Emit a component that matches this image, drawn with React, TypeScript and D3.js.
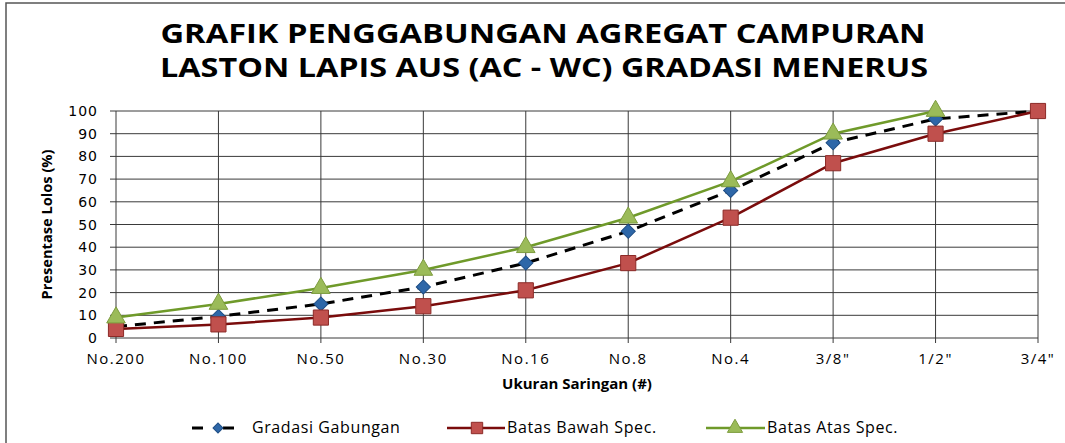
import React, { useRef, useEffect } from 'react';
import * as d3 from 'd3';

const sieves = ['No.200', 'No.100', 'No.50', 'No.30', 'No.16', 'No.8', 'No.4', '3/8"', '1/2"', '3/4"'];
const gradasiGabungan = [5, 9.5, 15, 22.5, 33, 47, 65, 86, 96.5, 100];
const batasBawah = [4, 6, 9, 14, 21, 33, 53, 77, 90, 100];
const batasAtas: (number | null)[] = [9, 15, 22, 30, 40, 53, 69, 90, 100, null];
const yTicks = [0, 10, 20, 30, 40, 50, 60, 70, 80, 90, 100];

const W = 1065, H = 443;
const margin = { left: 116, right: 27, top: 111, bottom: 105 };

const App = () => {
  const svgRef = useRef<SVGSVGElement>(null);

  useEffect(() => {
    const svg = d3.select(svgRef.current);
    svg.selectAll('*').remove();

    const x = d3.scalePoint().domain(sieves).range([margin.left, W - margin.right]);
    const y = d3.scaleLinear().domain([0, 100]).range([H - margin.bottom, margin.top]);

    // outer chart frame (runs past the right / bottom edges like the crop)
    svg.append('rect')
      .attr('x', 6).attr('y', 3).attr('width', W + 20).attr('height', H + 20)
      .attr('fill', '#fff').attr('stroke', '#555').attr('stroke-width', 1.5);

    // title
    const title = svg.append('g').attr('font-family', 'Open Sans').attr('font-weight', 'bold')
      .attr('font-size', 26).attr('fill', '#000').attr('text-anchor', 'middle');
    title.append('text').attr('x', 543).attr('y', 43)
      .attr('textLength', 765).attr('lengthAdjust', 'spacingAndGlyphs')
      .text('GRAFIK PENGGABUNGAN AGREGAT CAMPURAN');
    title.append('text').attr('x', 544).attr('y', 77)
      .attr('textLength', 768).attr('lengthAdjust', 'spacingAndGlyphs')
      .text('LASTON LAPIS AUS (AC - WC) GRADASI MENERUS');

    // grid
    const grid = svg.append('g').attr('stroke', '#3a3a3a').attr('stroke-width', 1);
    yTicks.forEach(t => {
      grid.append('line').attr('x1', margin.left - 6).attr('x2', W - margin.right)
        .attr('y1', y(t)).attr('y2', y(t));
    });
    sieves.forEach(s => {
      grid.append('line').attr('x1', x(s)!).attr('x2', x(s)!)
        .attr('y1', margin.top).attr('y2', y(0) + 5);
    });

    // y tick labels
    svg.append('g').attr('font-family', 'DejaVu Sans').attr('font-size', 14).attr('fill', '#000')
      .attr('text-anchor', 'end').attr('letter-spacing', 1)
      .selectAll('text').data(yTicks).join('text')
      .attr('x', 98).attr('y', d => y(d) + 5).text(d => d);

    // x tick labels
    svg.append('g').attr('font-family', 'Open Sans').attr('font-size', 15).attr('fill', '#000')
      .attr('text-anchor', 'middle').attr('letter-spacing', 1.5)
      .selectAll('text').data(sieves).join('text')
      .attr('x', d => x(d)!).attr('y', 364).text(d => d);

    // axis titles
    svg.append('text').attr('x', 577).attr('y', 389).attr('text-anchor', 'middle')
      .attr('font-family', 'Open Sans').attr('font-weight', 'bold').attr('font-size', 15)
      .text('Ukuran Saringan (#)');
    svg.append('text').attr('transform', `translate(52,${(y(0) + y(100)) / 2}) rotate(-90)`)
      .attr('text-anchor', 'middle').attr('font-family', 'Open Sans').attr('font-weight', 'bold')
      .attr('font-size', 15).attr('textLength', 150).attr('lengthAdjust', 'spacingAndGlyphs')
      .text('Presentase Lolos (%)');

    const line = d3.line<number | null>()
      .defined(d => d !== null)
      .x((_, i) => x(sieves[i])!)
      .y(d => y(d as number));

    const diamond = (sz: number) => d3.symbol().type(d3.symbolSquare).size(sz)();
    const square = (sz: number) => d3.symbol().type(d3.symbolSquare).size(sz)();
    const triangle = (sz: number) => d3.symbol().type(d3.symbolTriangle).size(sz)();

    const series = [
      { data: gradasiGabungan, color: '#000', width: 3, dash: '11,8', sym: diamond, size: 100, rot: 45, fill: '#2e67a8', edge: '#1f4e85' },
      { data: batasBawah, color: '#7a0c0c', width: 2.5, dash: null, sym: square, size: 230, rot: 0, fill: '#c0504d', edge: '#8c2a27' },
      { data: batasAtas, color: '#6f9a2a', width: 2.5, dash: null, sym: triangle, size: 150, rot: 0, fill: '#9bbb59', edge: '#7d9c3e' },
    ];

    series.forEach(s => {
      const g = svg.append('g');
      g.append('path').attr('d', line(s.data)).attr('fill', 'none')
        .attr('stroke', s.color).attr('stroke-width', s.width)
        .attr('stroke-dasharray', s.dash);
      g.selectAll('path.m').data(s.data.map((v, i) => [v, i] as [number | null, number]).filter(d => d[0] !== null))
        .join('path').attr('class', 'm')
        .attr('transform', d => `translate(${x(sieves[d[1]])},${y(d[0] as number)}) rotate(${s.rot})`)
        .attr('d', s.sym(s.size)).attr('fill', s.fill).attr('stroke', s.edge).attr('stroke-width', 1);
    });

    // legend
    const legendItems = [
      { label: 'Gradasi Gabungan', x0: 192, x1: 234, mx: 218, tx: 252, s: series[0], ms: 50 },
      { label: 'Batas Bawah Spec.', x0: 447, x1: 505, mx: 477, tx: 507, s: series[1], ms: 130 },
      { label: 'Batas Atas Spec.', x0: 706, x1: 765, mx: 735, tx: 767, s: series[2], ms: 100 },
    ];
    const ly = 428;
    legendItems.forEach(it => {
      svg.append('line').attr('x1', it.x0).attr('x2', it.x1).attr('y1', ly).attr('y2', ly)
        .attr('stroke', it.s.color).attr('stroke-width', it.s.width)
        .attr('stroke-dasharray', it.s.dash ? '11,20' : null);
      svg.append('path').attr('transform', `translate(${it.mx},${ly}) rotate(${it.s.rot})`)
        .attr('d', it.s.sym(it.ms)).attr('fill', it.s.fill)
        .attr('stroke', it.s.edge).attr('stroke-width', 1);
      svg.append('text').attr('x', it.tx).attr('y', ly + 5)
        .attr('font-family', 'Open Sans').attr('font-size', 16).attr('letter-spacing', 0.6)
        .text(it.label);
    });
  }, []);

  return (
    <svg ref={svgRef} width={W} height={H}
      style={{ position: 'absolute', left: 0, top: 0, display: 'block' }} />
  );
};

export default App;
